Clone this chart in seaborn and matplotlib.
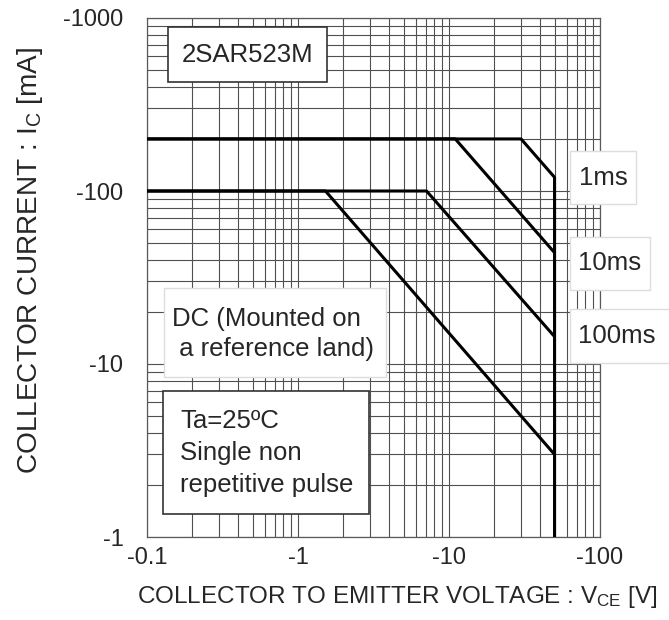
import seaborn as sns
import matplotlib.pyplot as plt
import pandas as pd
from matplotlib.patches import Rectangle
from matplotlib.ticker import NullFormatter

# Safe operating area curves, V and mA
vce_1ms = [0.1, 30, 50, 50]
ic_1ms = [200, 200, 120, 1]
vce_10ms = [0.1, 11, 50]
ic_10ms = [200, 200, 44]
vce_100ms = [0.1, 7.1, 50]
ic_100ms = [100, 100, 14.4]
vce_dc = [0.1, 1.52, 50]
ic_dc = [100, 100, 3.0]

curve_names = ['1ms', '10ms', '100ms', 'DC']
x_ticks = [0.1, 1, 10, 100]
x_tick_labels = ['-0.1', '-1', '-10', '-100']
y_ticks = [1, 10, 100, 1000]
y_tick_labels = ['-1', '-10', '-100', '-1000']

rows = []
for name, xs, ys in zip(curve_names,
                        [vce_1ms, vce_10ms, vce_100ms, vce_dc],
                        [ic_1ms, ic_10ms, ic_100ms, ic_dc]):
    for x, y in zip(xs, ys):
        rows.append({'curve': name, 'vce': x, 'ic': y})
df = pd.DataFrame(rows)

sns.set_style('white')
plt.rcParams['font.family'] = ['Liberation Sans', 'DejaVu Sans']
plt.rcParams['mathtext.default'] = 'regular'

W, H = 669, 620
fig = plt.figure(figsize=(W / 100, H / 100), dpi=100)
ax = fig.add_axes([147 / W, (H - 537) / H, 453 / W, 519 / H])

ax.set_xscale('log')
ax.set_yscale('log')
ax.set_xlim(0.1, 100)
ax.set_ylim(1, 1000)

sns.lineplot(data=df, x='vce', y='ic', hue='curve', palette=['black'] * 4,
             sort=False, estimator=None, legend=False, lw=2.2, ax=ax, zorder=3)

ax.grid(which='both', color='#505050', lw=0.8)
ax.set_axisbelow(True)
for s in ax.spines.values():
    s.set_color('#5a5a5a')
    s.set_linewidth(0.9)

ax.set_xticks(x_ticks, x_tick_labels)
ax.set_yticks(y_ticks, y_tick_labels)
ax.xaxis.set_minor_formatter(NullFormatter())
ax.yaxis.set_minor_formatter(NullFormatter())
ax.tick_params(which='both', length=0)
ax.tick_params(axis='x', labelsize=17, pad=7)
ax.tick_params(axis='y', labelsize=17, pad=17)

ax.set_xlabel('COLLECTOR TO EMITTER VOLTAGE : V$_{CE}$ [V]', fontsize=17.5)
ax.set_ylabel('COLLECTOR CURRENT : I$_{C}$ [mA]', fontsize=20.2)
ax.xaxis.set_label_coords(0.553, -0.09)
ax.yaxis.set_label_coords(-0.226, 0.534)


def px_box(x0, y0, x1, y1, ec, lw):
    fig.add_artist(Rectangle((x0 / W, 1 - y1 / H), (x1 - x0) / W, (y1 - y0) / H,
                             transform=fig.transFigure, fc='white', ec=ec, lw=lw,
                             zorder=4))


def px_text(x, y, s, ha='center', ls=1.2):
    fig.text(x / W, 1 - y / H, s, ha=ha, va='center', fontsize=18.5,
             linespacing=ls, zorder=5)


# annotation boxes
px_box(168, 27, 327, 82, '#333333', 1.2)
px_text(248, 54.5, '2SAR523M')

px_box(164, 288, 386, 377, '#dddddd', 1.0)
px_text(172, 334, 'DC (Mounted on\n a reference land)', ha='left', ls=1.35)

px_box(163, 391, 369, 514, '#333333', 1.2)
px_text(180, 453, 'Ta=25ºC\nSingle non\nrepetitive pulse', ha='left', ls=1.4)

px_box(570, 151, 636, 204, '#dddddd', 1.0)
px_text(603, 178, '1ms')
px_box(570, 237, 650, 290, '#dddddd', 1.0)
px_text(610, 263, '10ms')
px_box(570, 309, 672, 363, '#dddddd', 1.0)
px_text(617, 336, '100ms')

plt.savefig('out.png', dpi=100)
